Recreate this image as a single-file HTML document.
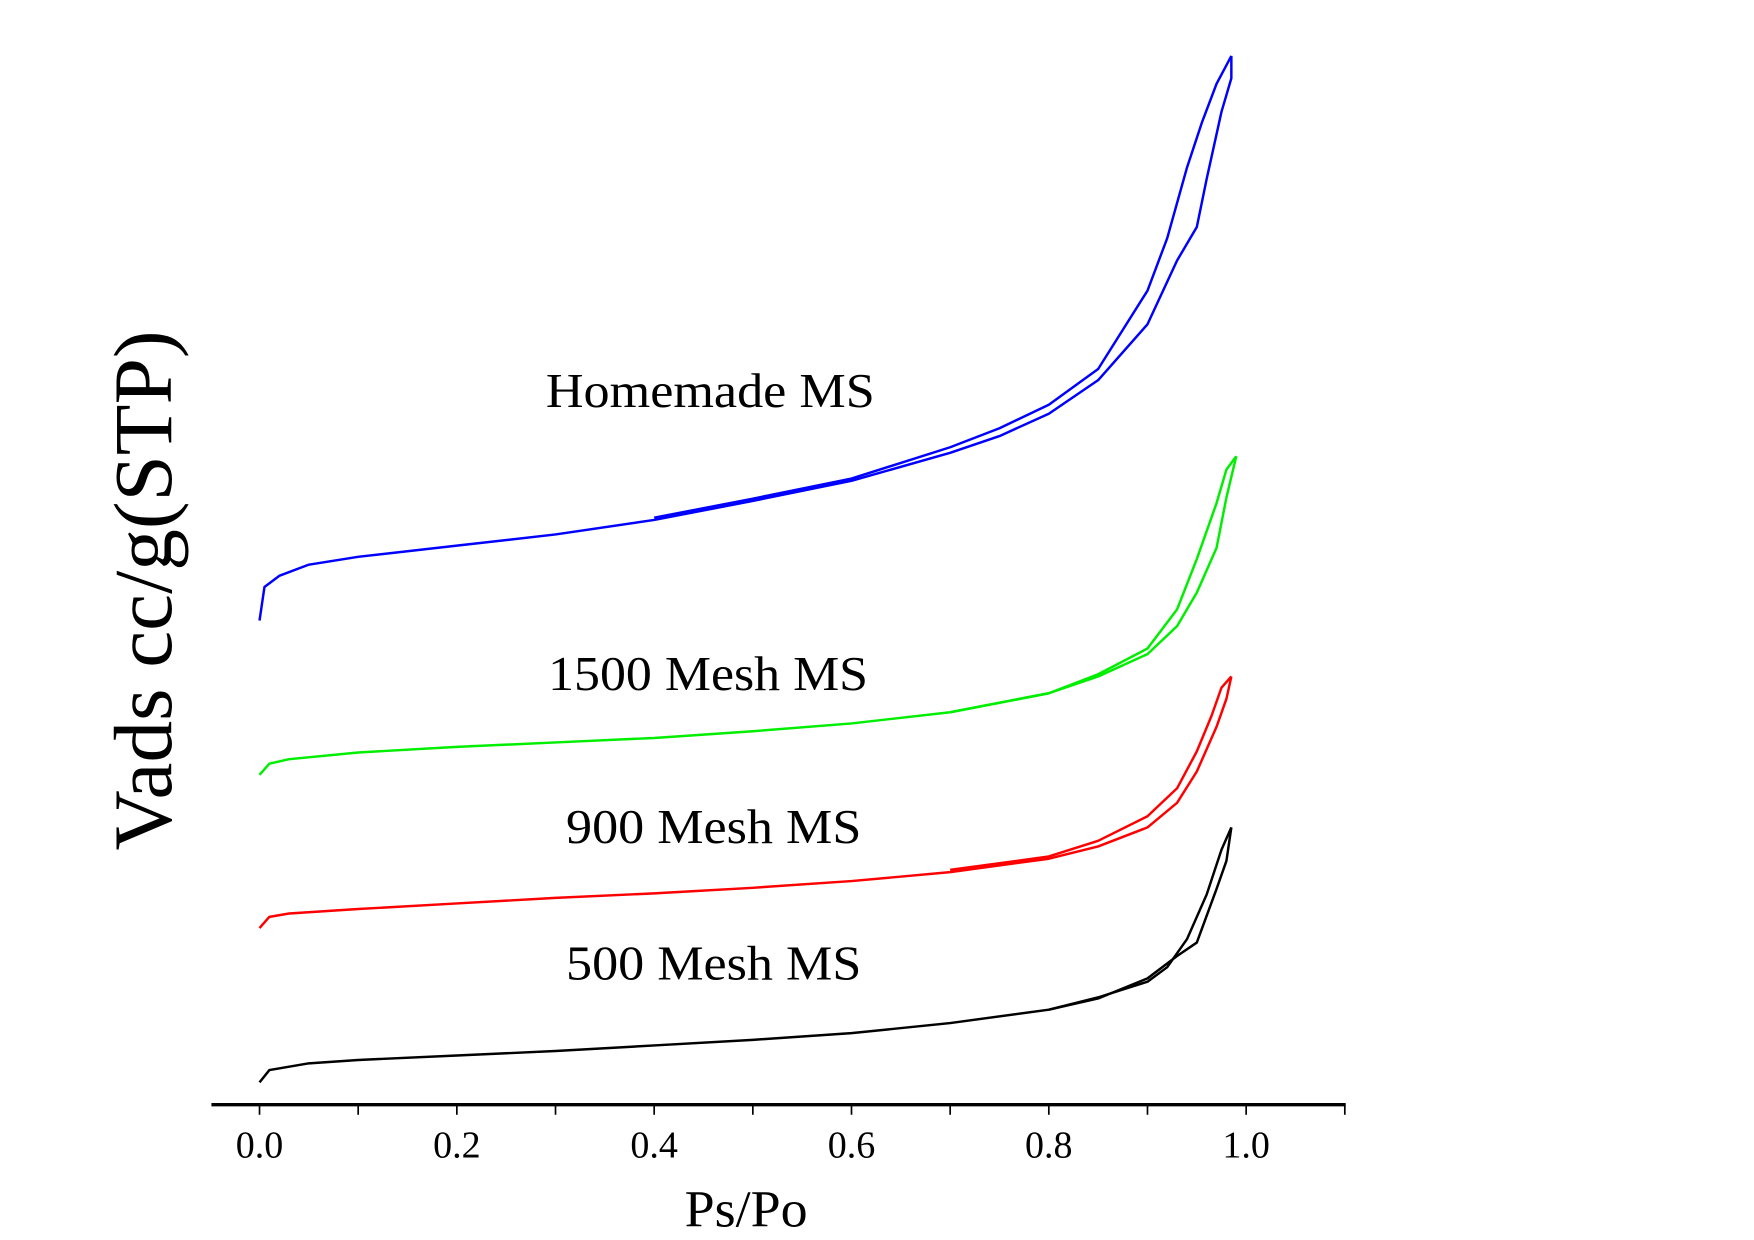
<!DOCTYPE html>
<html><head><meta charset="utf-8"><style>
html,body{margin:0;padding:0;background:#fff;}
svg{display:block;}
text{font-family:"Liberation Serif",serif;fill:#000;}
</style></head><body>
<svg id="chart" width="1754" height="1240" viewBox="0 0 1568 1109" preserveAspectRatio="none" xmlns="http://www.w3.org/2000/svg">
<g id="axes"></g>
<g id="series"></g>
<text transform="translate(153,528) rotate(-90)" text-anchor="middle" font-size="74" textLength="465" lengthAdjust="spacingAndGlyphs">Vads cc/g(STP)</text>
<text x="667" y="1097" text-anchor="middle" font-size="46" textLength="110" lengthAdjust="spacingAndGlyphs">Ps/Po</text>
<text x="635" y="364" text-anchor="middle" font-size="44" textLength="294" lengthAdjust="spacingAndGlyphs">Homemade MS</text>
<text x="633" y="617" text-anchor="middle" font-size="44" textLength="286" lengthAdjust="spacingAndGlyphs">1500 Mesh MS</text>
<text x="638" y="754" text-anchor="middle" font-size="44" textLength="264" lengthAdjust="spacingAndGlyphs">900 Mesh MS</text>
<text x="638" y="876" text-anchor="middle" font-size="44" textLength="264" lengthAdjust="spacingAndGlyphs">500 Mesh MS</text>
</svg>
<script>
// x ticks
const xTicks = [0,0.1,0.2,0.3,0.4,0.5,0.6,0.7,0.8,0.9,1.0,1.1];
const xTickLabels = ["0.0","0.2","0.4","0.6","0.8","1.0"];
const xTickLabelVals = [0,0.2,0.4,0.6,0.8,1.0];
// series data (x = Ps/Po, y = volume in arbitrary units)
const blueAdsX = [0,0.005,0.02,0.05,0.1,0.2,0.3,0.4,0.5,0.6,0.7,0.75,0.8,0.85,0.9,0.93,0.95,0.96,0.975,0.98,0.985,0.985];
const blueAdsY = [433,463,473,483,490,500,510,523,540,558,583,598,618,648,698,755,785,828,888,903,918,938];
const blueDesX = [0.985,0.97,0.955,0.94,0.92,0.9,0.85,0.8,0.75,0.7,0.6,0.5,0.4];
const blueDesY = [938,913,878,838,775,728,658,626,605,588,560,542,525];
const greenAdsX = [0,0.01,0.03,0.1,0.2,0.3,0.4,0.5,0.6,0.7,0.8,0.85,0.9,0.93,0.95,0.97,0.98,0.99];
const greenAdsY = [295,305,309,315,320,324,328,334,341,351,368,383,403,428,458,498,543,580];
const greenDesX = [0.99,0.98,0.97,0.95,0.93,0.9,0.85,0.8,0.7];
const greenDesY = [580,568,538,488,443,408,385,368,351];
const redAdsX = [0,0.01,0.03,0.1,0.2,0.3,0.4,0.5,0.6,0.7,0.8,0.85,0.9,0.93,0.95,0.97,0.98,0.985];
const redAdsY = [158,168,171,175,180,185,189,194,200,208,220,231,248,270,298,338,363,383];
const redDesX = [0.985,0.975,0.965,0.95,0.93,0.9,0.85,0.8,0.7];
const redDesY = [383,373,348,316,283,258,236,222,210];
const blackAdsX = [0,0.01,0.05,0.1,0.2,0.3,0.4,0.5,0.6,0.7,0.8,0.85,0.9,0.93,0.95,0.97,0.98,0.985];
const blackAdsY = [20,31,37,40,44,48,53,58,64,73,85,95,113,133,145,193,218,248];
const blackDesX = [0.985,0.975,0.96,0.94,0.92,0.9,0.85,0.8];
const blackDesY = [248,228,188,148,123,110,96,85];

const NS = "http://www.w3.org/2000/svg";
const X0 = 232, XS = 882, Y0 = 988;
function xScale(v){ return X0 + v*XS; }
function yScale(v){ return Y0 - v; }

const axes = document.getElementById('axes');
const axisLine = document.createElementNS(NS,'line');


axisLine.setAttribute('x1',189); axisLine.setAttribute('x2',1203);
axisLine.setAttribute('y1',Y0); axisLine.setAttribute('y2',Y0);
axisLine.setAttribute('stroke','#000'); axisLine.setAttribute('stroke-width','3');
axes.appendChild(axisLine);
xTicks.forEach(t=>{
  const l = document.createElementNS(NS,'line');
  
  
  const x = xScale(t);
  l.setAttribute('x1',x); l.setAttribute('x2',x);
  l.setAttribute('y1',Y0); l.setAttribute('y2',Y0+9);
  l.setAttribute('stroke','#000'); l.setAttribute('stroke-width','1.5');
  axes.appendChild(l);
});
xTickLabelVals.forEach((t,i)=>{
  const tx = document.createElementNS(NS,'text');
  
  
  tx.setAttribute('x',xScale(t)); tx.setAttribute('y',1035);
  tx.setAttribute('text-anchor','middle'); tx.setAttribute('font-size','34');
  tx.textContent = xTickLabels[i];
  axes.appendChild(tx);
});

const series = document.getElementById('series');
function drawLine(xs, ys, color, name){
  const p = document.createElementNS(NS,'polyline');
  
  
  p.setAttribute('points', xs.map((x,i)=>xScale(x)+','+yScale(ys[i])).join(' '));
  p.setAttribute('fill','none'); p.setAttribute('stroke',color);
  p.setAttribute('stroke-width','2.2'); p.setAttribute('stroke-linejoin','round');
  series.appendChild(p);
}
drawLine(blueAdsX, blueAdsY, '#0000ff', 'homemade-adsorption');
drawLine(blueDesX, blueDesY, '#0000ff', 'homemade-desorption');
drawLine(greenAdsX, greenAdsY, '#00ee00', 'mesh1500-adsorption');
drawLine(greenDesX, greenDesY, '#00ee00', 'mesh1500-desorption');
drawLine(redAdsX, redAdsY, '#ff0000', 'mesh900-adsorption');
drawLine(redDesX, redDesY, '#ff0000', 'mesh900-desorption');
drawLine(blackAdsX, blackAdsY, '#000000', 'mesh500-adsorption');
drawLine(blackDesX, blackDesY, '#000000', 'mesh500-desorption');
</script>
</body></html>
